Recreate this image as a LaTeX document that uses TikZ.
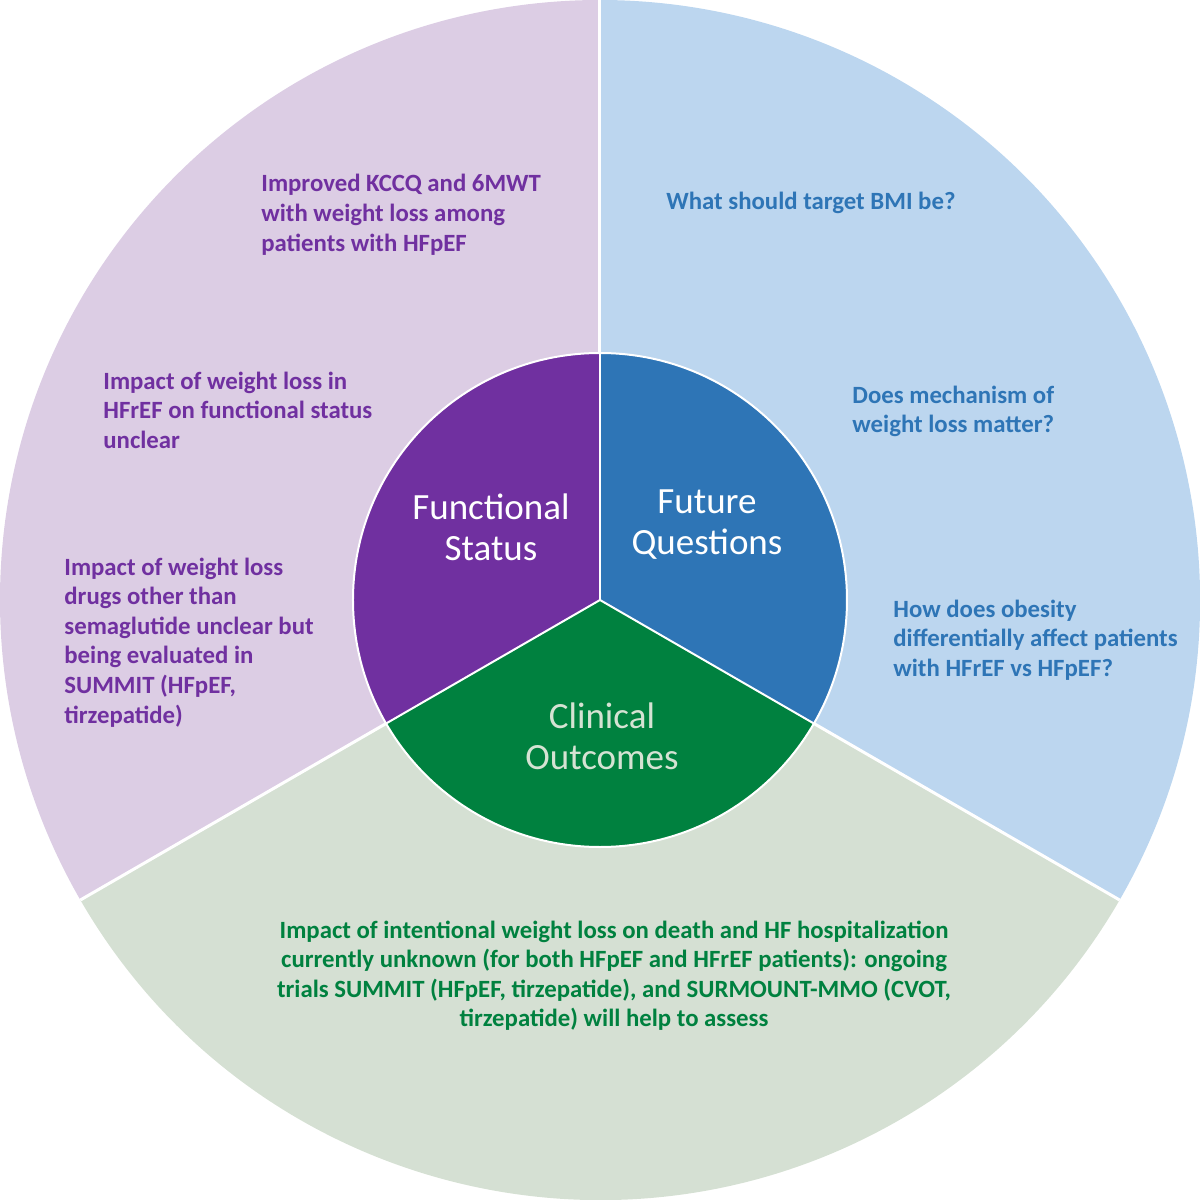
\documentclass[tikz,border=0pt]{standalone}
\usepackage{fontspec}
\setmainfont{Carlito}
\definecolor{pdark}{HTML}{7030A0}
\definecolor{plight}{HTML}{DCCDE4}
\definecolor{bdark}{HTML}{2E75B6}
\definecolor{blight}{HTML}{BCD6EF}
\definecolor{gdark}{HTML}{00813F}
\definecolor{glight}{HTML}{D5E0D3}
\definecolor{gtext}{HTML}{00813F}
\definecolor{ctext}{HTML}{D5E3D3}
\begin{document}
\begin{tikzpicture}[x=0.5pt,y=0.5pt,
  sep/.style={draw=white,line width=1.5pt},
  outtext/.style={anchor=base west,align=left,inner sep=0pt,font=\fontsize{12.4}{14.8}\selectfont\bfseries},
  intext/.style={anchor=base,align=center,inner sep=0pt,text=white,font=\fontsize{18.5}{20.5}\selectfont}]
\useasboundingbox (-600,-600) rectangle (600,600);
% outer sectors
\fill[plight] (0,0) -- (90:300pt) arc[start angle=90,end angle=210,radius=300pt] -- cycle;
\fill[blight] (0,0) -- (-30:300pt) arc[start angle=-30,end angle=90,radius=300pt] -- cycle;
\fill[glight] (0,0) -- (210:300pt) arc[start angle=210,end angle=330,radius=300pt] -- cycle;
\coordinate (c) at (0,0);
\coordinate (o1) at (90:300pt);
\coordinate (o2) at (210:300pt);
\coordinate (o3) at (330:300pt);
\draw[sep] (c) -- (o1);
\draw[sep] (c) -- (o2);
\draw[sep] (c) -- (o3);
% inner sectors
\fill[pdark] (0,0) -- (90:123.5pt) arc[start angle=90,end angle=210,radius=123.5pt] -- cycle;
\fill[bdark] (0,0) -- (-30:123.5pt) arc[start angle=-30,end angle=90,radius=123.5pt] -- cycle;
\fill[gdark] (0,0) -- (210:123.5pt) arc[start angle=210,end angle=330,radius=123.5pt] -- cycle;
\coordinate (i1) at (90:123.5pt);
\coordinate (i2) at (210:123.5pt);
\coordinate (i3) at (330:123.5pt);
\draw[sep,line width=1pt] (c) circle[radius=123.5pt];
\draw[sep,line width=1pt] (c) -- (i1);
\draw[sep,line width=1pt] (c) -- (i2);
\draw[sep,line width=1pt] (c) -- (i3);
% inner labels
\node[intext] (fs) at (-109,40) {Functional\\Status};
\node[intext] (fq) at (107,46) {Future\\Questions};
\node[intext,text=ctext] (co) at (2,-169) {Clinical\\Outcomes};
% purple texts
\node[outtext,text=pdark] (p1) at (-339,348.8) {Improved KCCQ and 6MWT\\with weight loss among\\patients with HFpEF};
\node[outtext,text=pdark] (p2) at (-497,151.8) {Impact of weight loss in\\HFrEF on functional status\\unclear};
\node[outtext,text=pdark] (p3) at (-536,-123) {Impact of weight loss\\drugs other than\\semaglutide unclear but\\being evaluated in\\SUMMIT (HFpEF,\\tirzepatide)};
% blue texts
\node[outtext,text=bdark] (b1) at (66,390) {What should target BMI be?};
\node[outtext,text=bdark] (b2) at (252,167.4) {Does mechanism of\\weight loss matter?};
\node[outtext,text=bdark] (b3) at (293,-76.2) {How does obesity\\differentially affect patients\\with HFrEF vs HFpEF?};
% green text
\node[outtext,anchor=base,align=center,text=gtext] (g1) at (14,-426.8) {Impact of intentional weight loss on death and HF hospitalization\\currently unknown (for both HFpEF and HFrEF patients): ongoing\\trials SUMMIT (HFpEF, tirzepatide), and SURMOUNT-MMO (CVOT,\\tirzepatide) will help to assess};
\end{tikzpicture}
\end{document}
